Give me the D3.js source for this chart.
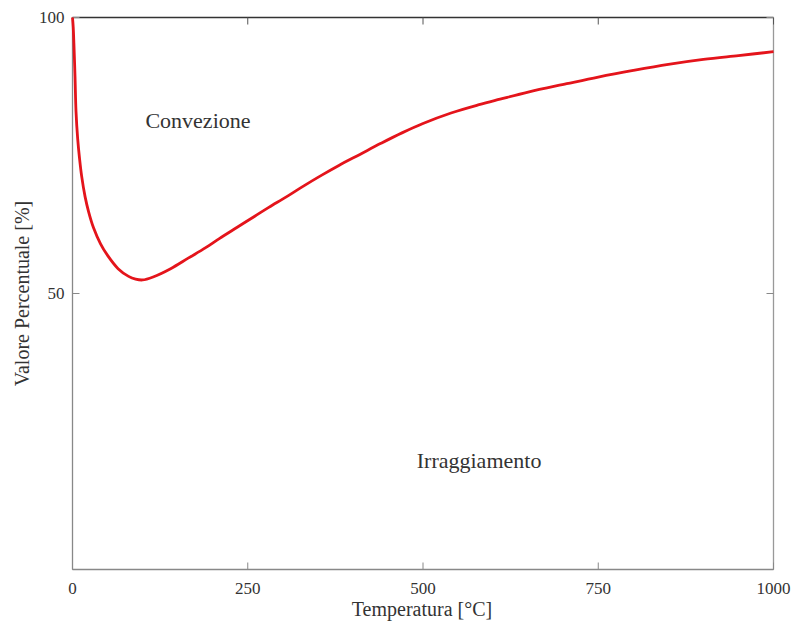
<!DOCTYPE html>
<html><head><meta charset="utf-8">
<script src="https://cdn.jsdelivr.net/npm/d3@7"></script>
<style>body{margin:0;background:#fff}text{font-family:"Liberation Serif","DejaVu Serif",serif;fill:#333}</style>
</head><body><svg id="c" width="793" height="624"></svg>
<script>
const temps = [0,1,2,3.6,5,7.4,10,13,18,23,30,40,50,65,80,90,100,115,140,165,190,210,235,260,280,305,330,355,380,410,440,470,500,540,580,610,650,705,750,800,850,900,950,1000];
const values = [100,98.3,95.3,89.3,83.0,78.0,74.5,71.3,67.5,64.8,61.9,59.0,56.9,54.5,53.1,52.6,52.45,53.0,54.5,56.4,58.3,60.0,62.0,64.0,65.6,67.5,69.5,71.4,73.2,75.2,77.2,79.1,80.8,82.7,84.2,85.2,86.5,88.0,89.2,90.4,91.5,92.4,93.1,93.8];
const xTicks = [0,250,500,750,1000];
const yTicks = [0,50,100];
const yTickLabels = ["","50","100"];
const xTitle = "Temperatura [°C]";
const yTitle = "Valore Percentuale [%]";
const regionLabels = [{text:"Convezione", t:179, v:80.0},{text:"Irraggiamento", t:580, v:18.4}];

const svg = d3.select("#c");
const L=72.5, R=773.5, T=17.5, B=569.5;
const x = d3.scaleLinear().domain([0,1000]).range([L,R]);
const y = d3.scaleLinear().domain([0,100]).range([B,T]);
const tl = 7;

// frame
svg.append("line").attr("x1",L).attr("x2",R).attr("y1",T).attr("y2",T).attr("stroke","#333").attr("stroke-width",1.3);
svg.append("line").attr("x1",R).attr("x2",R).attr("y1",T).attr("y2",B).attr("stroke","#999").attr("stroke-width",1.3);
svg.append("line").attr("x1",L).attr("x2",L).attr("y1",T).attr("y2",B).attr("stroke","#888").attr("stroke-width",1.3);
svg.append("line").attr("x1",L).attr("x2",R).attr("y1",B).attr("y2",B).attr("stroke","#888").attr("stroke-width",1.3);

const gx = svg.append("g");
xTicks.forEach(t=>{
  gx.append("line").attr("x1",x(t)).attr("x2",x(t)).attr("y1",B).attr("y2",B-tl).attr("stroke","#888");
  gx.append("line").attr("x1",x(t)).attr("x2",x(t)).attr("y1",T).attr("y2",T+tl).attr("stroke","#555");
  gx.append("text").attr("x",x(t)).attr("y",B+24).attr("text-anchor","middle").attr("font-size",17).text(d3.format("d")(t));
});
const gy = svg.append("g");
yTicks.forEach((t,i)=>{
  gy.append("line").attr("x1",L).attr("x2",L+tl).attr("y1",y(t)).attr("y2",y(t)).attr("stroke","#888");
  gy.append("line").attr("x1",R).attr("x2",R-tl).attr("y1",y(t)).attr("y2",y(t)).attr("stroke","#888");
  gy.append("text").attr("x",L-8).attr("y",y(t)).attr("dy","0.35em").attr("text-anchor","end").attr("font-size",17).text(yTickLabels[i]);
});

svg.append("text").attr("x",422).attr("y",616).attr("text-anchor","middle").attr("font-size",20).text(xTitle);
svg.append("text").attr("transform",`translate(29,${(T+B)/2}) rotate(-90)`).attr("text-anchor","middle").attr("font-size",20).text(yTitle);

regionLabels.forEach(r=>{
  svg.append("text").attr("x",x(r.t)).attr("y",y(r.v)).attr("text-anchor","middle").attr("font-size",22).text(r.text);
});

const data = temps.map((t,i)=>[t,values[i]]);
svg.append("path").datum(data)
  .attr("d", d3.line().x(d=>x(d[0])).y(d=>y(d[1])).curve(d3.curveCatmullRom.alpha(0.5)))
  .attr("fill","none").attr("stroke","#e4141b").attr("stroke-width",2.8).attr("stroke-linejoin","round");
</script></body></html>
